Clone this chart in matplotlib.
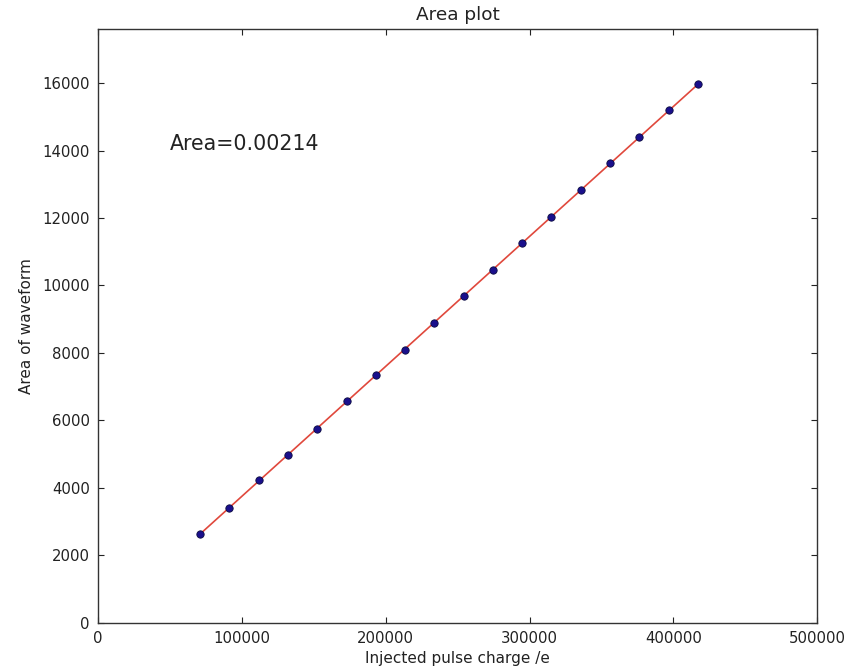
import numpy as np
import matplotlib
matplotlib.use("Agg")
import matplotlib.pyplot as plt

# injected charge (electrons) and integrated waveform area
charge = [70900, 91100, 111900, 132100, 152300, 173100, 193300, 213500, 233700,
          254500, 274600, 294800, 315000, 335900, 356000, 376200, 397100, 417200]
area = [2613, 3412, 4241, 4981, 5750, 6579, 7349, 8088, 8887,
        9686, 10456, 11255, 12024, 12823, 13622, 14392, 15221, 15990]
fit_label = "Area=0.00214"

x = np.array(charge, dtype=float)
y = np.array(area, dtype=float)
coef = np.polyfit(x, y, 1)

fig = plt.figure(figsize=(8.62, 6.68), dpi=100)
ax = fig.add_axes([0.1137, 0.0681, 0.8343, 0.8880])

ax.plot(x, np.polyval(coef, x), color="#e0483c", lw=1.2, zorder=2)
ax.scatter(x, y, s=28, facecolor="#1a0f8c", edgecolor="#0a0a40", lw=0.6, zorder=3)

ax.text(50000, 14200, fit_label, fontsize=14.8, va="center", color="#222222")

ax.set_xlim(0, 500000)
ax.set_ylim(0, 17600)
ax.set_xticks(np.arange(0, 500001, 100000))
ax.set_yticks(np.arange(0, 16001, 2000))
ax.tick_params(direction="in", top=True, right=True, labelsize=10.7,
               length=4, width=0.8, colors="#222222", pad=6)
for s in ax.spines.values():
    s.set_linewidth(1.0)
    s.set_color("#333333")

ax.set_title("Area plot", fontsize=13.3, color="#222222", pad=7)
ax.set_xlabel("Injected pulse charge /e", fontsize=11, color="#222222", labelpad=4)
ax.set_ylabel("Area of waveform", fontsize=11, color="#222222", labelpad=6)

fig.savefig("out.png", dpi=100, facecolor="white")
